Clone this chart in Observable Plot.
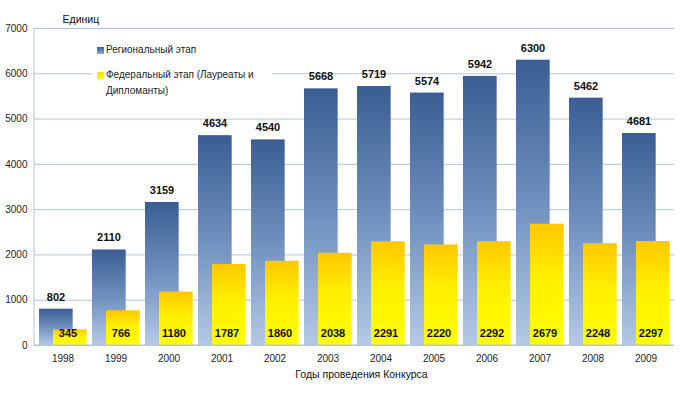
<!DOCTYPE html>
<html><head><meta charset="utf-8">
<script src="https://cdn.jsdelivr.net/npm/d3@7"></script>
<script src="https://cdn.jsdelivr.net/npm/@observablehq/plot@0.6"></script>
<style>
body{margin:0;background:#fff;font-family:Arial,"Liberation Sans",sans-serif}
#wrap{position:relative;width:686px;height:394px}
#legend{position:absolute;left:92px;top:38px;width:180px;height:64px;background:#fff;font-size:10px;color:#222;line-height:16px}
.item{position:absolute;left:14px;white-space:nowrap}
.sw{position:absolute;left:-9px;top:5px;width:7px;height:7px}
</style></head>
<body><div id="wrap"></div>
<script>
const years = ["1998","1999","2000","2001","2002","2003","2004","2005","2006","2007","2008","2009"];
const regional = [802,2110,3159,4634,4540,5668,5719,5574,5942,6300,5462,4681];
const federal = [345,766,1180,1787,1860,2038,2291,2220,2292,2679,2248,2297];
const yTicks = [0,1000,2000,3000,4000,5000,6000,7000];
const seriesNames = ["Региональный этап","Федеральный этап (Лауреаты и Дипломанты)"];
const yTitle = "Единиц";
const xTitle = "Годы проведения Конкурса";

const rows = years.map((y,i)=>({year:y, regional:regional[i], federal:federal[i]}));
const W = 686, H = 394, ML = 34, MR = 12, MT = 28, MB = 49;
const bw = (W-ML-MR)/years.length;
const ns = "http://www.w3.org/2000/svg";
const lineColor = "#b3c5d9";

const defs = () => {
  const g = document.createElementNS(ns,"g");
  g.innerHTML = `<defs>
  <linearGradient id="gReg" x1="0" y1="0" x2="0" y2="1">
    <stop offset="0" stop-color="#3a5e93"/><stop offset="0.5" stop-color="#6f90be"/><stop offset="1" stop-color="#b4cae5"/>
  </linearGradient>
  <linearGradient id="gFed" x1="0" y1="0" x2="0" y2="1">
    <stop offset="0" stop-color="#ffc800"/><stop offset="0.45" stop-color="#fff000"/><stop offset="1" stop-color="#ffff00"/>
  </linearGradient></defs>`;
  return g;
};
const frameLines = (index, scales, values, dim) => {
  const g = document.createElementNS(ns,"g");
  const l = dim.marginLeft, r = dim.width - dim.marginRight, t = dim.marginTop, b = dim.height - dim.marginBottom;
  g.innerHTML = `<line x1="${l}" x2="${l}" y1="${t}" y2="${b}" stroke="${lineColor}"/><line x1="${l}" x2="${r}" y1="${b}" y2="${b}" stroke="${lineColor}"/>`;
  return g;
};

const chart = Plot.plot({
  width: W, height: H, marginLeft: ML, marginRight: MR, marginTop: MT, marginBottom: MB,
  style: {fontFamily: "Arial, 'Liberation Sans', sans-serif", fontSize: "10px", color: "#222", background: "#fff"},
  x: {type: "band", domain: years, padding: 0, label: null, tickSize: 0, tickPadding: 9},
  y: {domain: [0, 7000], ticks: yTicks, tickFormat: d => String(d), label: null, tickSize: 0, tickPadding: 7},
  marks: [
    defs,
    Plot.gridY(yTicks, {stroke: lineColor, strokeOpacity: 1}),
    Plot.barY(rows, {x: "year", y: "regional", fill: "url(#gReg)", insetLeft: 3, insetRight: bw - 37}),
    Plot.barY(rows, {x: "year", y: "federal", fill: "url(#gFed)", insetLeft: 17, insetRight: bw - 51}),
    frameLines,
    Plot.text(rows, {x: "year", y: "regional", text: d => String(d.regional), dx: -7, dy: -12, fontWeight: "bold", fontSize: 11, fill: "#111"}),
    Plot.text(rows, {x: "year", y: d => 0, text: d => String(d.federal), dx: 5, dy: -12, fontWeight: "bold", fontSize: 11, fill: "#111"}),
    Plot.text([yTitle], {frameAnchor: "top-left", text: d => d, textAnchor: "start", dx: 28, dy: -13, fontSize: 10.5, fill: "#111"}),
    Plot.text([xTitle], {frameAnchor: "bottom", text: d => d, dx: 7, dy: 32, fontSize: 10.5, fill: "#111"})
  ]
});
const wrap = document.getElementById("wrap");
wrap.appendChild(chart);
const legend = document.createElement("div");
legend.id = "legend";
legend.innerHTML = `<div class="item" style="top:4px"><span class="sw" style="background:linear-gradient(#3a5e93,#8fa9cf)"></span>${seriesNames[0]}</div>
<div class="item" style="top:29px;white-space:normal;width:165px"><span class="sw" style="background:linear-gradient(#ffe000,#ffff00)"></span>${seriesNames[1]}</div>`;
wrap.appendChild(legend);
</script></body></html>
